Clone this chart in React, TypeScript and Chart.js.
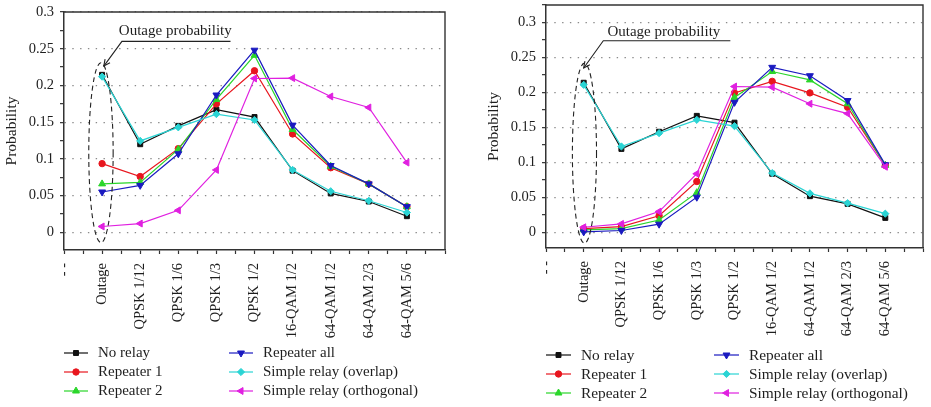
import React, { useEffect, useRef } from 'react';
import { Chart, registerables, PointElement } from 'chart.js';

Chart.register(...registerables);

// ---------- data ----------
const categories = ['Outage', 'QPSK 1/12', 'QPSK 1/6', 'QPSK 1/3', 'QPSK 1/2', '16-QAM 1/2', '64-QAM 1/2', '64-QAM 2/3', '64-QAM 5/6'];
const edgeLabel = '- -';
const seriesNames = ['No relay', 'Repeater 1', 'Repeater 2', 'Repeater all', 'Simple relay (overlap)', 'Simple relay (orthogonal)'];
const annotationText = 'Outage probability';
const yTitle = 'Probability';

// left panel
const leftNoRelay = [0.2145, 0.120, 0.145, 0.167, 0.157, 0.084, 0.053, 0.042, 0.022];
const leftRepeater1 = [0.0936, 0.076, 0.114, 0.175, 0.220, 0.134, 0.088, 0.066, 0.035];
const leftRepeater2 = [0.066, 0.068, 0.113, 0.181, 0.241, 0.140, 0.090, 0.066, 0.035];
const leftRepeaterAll = [0.055, 0.064, 0.107, 0.187, 0.248, 0.146, 0.091, 0.066, 0.035];
const leftSimpleOverlap = [0.212, 0.1245, 0.143, 0.161, 0.153, 0.085, 0.056, 0.043, 0.027];
const leftSimpleOrthogonal = [0.008, 0.012, 0.030, 0.085, 0.2095, 0.210, 0.185, 0.170, 0.095];

// right panel
const rightNoRelay = [0.214, 0.1195, 0.144, 0.1667, 0.157, 0.084, 0.052, 0.041, 0.021];
const rightRepeater1 = [0.0057, 0.0086, 0.024, 0.073, 0.1995, 0.216, 0.1995, 0.179, 0.096];
const rightRepeater2 = [0.004, 0.0057, 0.018, 0.057, 0.193, 0.230, 0.218, 0.184, 0.096];
const rightRepeaterAll = [0.001, 0.003, 0.012, 0.0505, 0.186, 0.236, 0.224, 0.1886, 0.097];
const rightSimpleOverlap = [0.211, 0.123, 0.142, 0.161, 0.152, 0.085, 0.056, 0.042, 0.027];
const rightSimpleOrthogonal = [0.0076, 0.0124, 0.030, 0.084, 0.2086, 0.2076, 0.184, 0.170, 0.094];

// ---------- styles ----------
const FONT = "'Liberation Serif', 'Times New Roman', serif";
const TEXT = '#1e1e1e';
const seriesStyles = [
  { color: '#111111', pointStyle: 'rect', rotation: 0, radius: 3.5 },
  { color: '#e8161e', pointStyle: 'circle', rotation: 0, radius: 3.2 },
  { color: '#2bd62b', pointStyle: 'triangle', rotation: 0, radius: 4 },
  { color: '#1a1ac0', pointStyle: 'triangle', rotation: 180, radius: 4 },
  { color: '#2ad4d4', pointStyle: 'rectRot', rotation: 0, radius: 3.6 },
  { color: '#e020e0', pointStyle: 'triangle', rotation: 270, radius: 4 },
];

const panels = [
  {
    key: 'left',
    x: 0,
    width: 470,
    series: [leftNoRelay, leftRepeater1, leftRepeater2, leftRepeaterAll, leftSimpleOverlap, leftSimpleOrthogonal],
    yMin: -0.024,
    yMax: 0.3,
    padding: { left: 0, top: 12, right: 25, bottom: 67 },
    yWidth: 64,
    xHeight: 90,
    annotation: {
      ellipse: { cx: -0.03, rx: 0.32, top: 0.231, bottom: -0.014 },
      tip: [0.045, 0.2264],
      elbow: [0.52, 0.26],
      end: [3.37, 0.26],
      text: [0.44, 0.274],
    },
    legend: { rows: [353, 372, 391], cols: [0, 165], lineLen: 24, textGap: 34, font: 15 },
  },
  {
    key: 'right',
    x: 470,
    width: 461,
    series: [rightNoRelay, rightRepeater1, rightRepeater2, rightRepeaterAll, rightSimpleOverlap, rightSimpleOrthogonal],
    yMin: -0.022,
    yMax: 0.325,
    padding: { left: 12, top: 5, right: 8, bottom: 69 },
    yWidth: 64,
    xHeight: 90,
    annotation: {
      ellipse: { cx: 0.02, rx: 0.32, top: 0.242, bottom: -0.015 },
      tip: [0.0, 0.235],
      elbow: [0.52, 0.274],
      end: [3.89, 0.274],
      text: [0.63, 0.287],
    },
    legend: { rows: [355, 374, 393], cols: [0, 168], lineLen: 25, textGap: 35, font: 15.4 },
  },
];

const decorPlugin = {
  id: 'decor',
  beforeDatasetsDraw(chart: any) {
    const { ctx, chartArea: a } = chart;
    ctx.save();
    ctx.strokeStyle = '#333333';
    ctx.lineWidth = 1.4;
    ctx.beginPath();
    ctx.moveTo(a.left, a.top);
    ctx.lineTo(a.right, a.top);
    ctx.lineTo(a.right, a.bottom);
    ctx.stroke();
    ctx.restore();
  },
  afterDatasetsDraw(chart: any, _args: any, opts: any) {
    const { ctx } = chart;
    const xs = chart.scales.x;
    const ys = chart.scales.y;
    const an = opts.annotation;
    if (an) {
      ctx.save();
      ctx.strokeStyle = '#222222';
      ctx.lineWidth = 1.1;
      const cx = xs.getPixelForValue(an.ellipse.cx);
      const rx = Math.abs(xs.getPixelForValue(an.ellipse.cx + an.ellipse.rx) - cx);
      const yt = ys.getPixelForValue(an.ellipse.top);
      const yb = ys.getPixelForValue(an.ellipse.bottom);
      ctx.setLineDash([5, 3.5]);
      ctx.beginPath();
      ctx.ellipse(cx, (yt + yb) / 2, rx, (yb - yt) / 2, 0, 0, Math.PI * 2);
      ctx.stroke();
      ctx.setLineDash([]);
      const tx = xs.getPixelForValue(an.tip[0]);
      const ty = ys.getPixelForValue(an.tip[1]);
      const ex = xs.getPixelForValue(an.elbow[0]);
      const ey = ys.getPixelForValue(an.elbow[1]);
      const nx = xs.getPixelForValue(an.end[0]);
      const ny = ys.getPixelForValue(an.end[1]);
      ctx.beginPath();
      ctx.moveTo(nx, ny);
      ctx.lineTo(ex, ey);
      ctx.lineTo(tx, ty);
      ctx.stroke();
      const ang = Math.atan2(ty - ey, tx - ex);
      const len = 7;
      ctx.beginPath();
      ctx.moveTo(tx - len * Math.cos(ang - 0.45), ty - len * Math.sin(ang - 0.45));
      ctx.lineTo(tx, ty);
      ctx.lineTo(tx - len * Math.cos(ang + 0.45), ty - len * Math.sin(ang + 0.45));
      ctx.stroke();
      ctx.fillStyle = TEXT;
      ctx.font = `15px ${FONT}`;
      ctx.textAlign = 'left';
      ctx.textBaseline = 'middle';
      ctx.fillText(annotationText, xs.getPixelForValue(an.text[0]), ys.getPixelForValue(an.text[1]));
      ctx.restore();
    }
    const lg = opts.legend;
    if (lg) {
      const left = chart.chartArea.left;
      chart.data.datasets.forEach((ds: any, i: number) => {
        const st = seriesStyles[i];
        const col = Math.floor(i / 3);
        const row = i % 3;
        const x0 = left + lg.cols[col];
        const y0 = lg.rows[row];
        ctx.save();
        ctx.strokeStyle = st.color;
        ctx.lineWidth = 1.2;
        ctx.beginPath();
        ctx.moveTo(x0, y0);
        ctx.lineTo(x0 + lg.lineLen, y0);
        ctx.stroke();
        const pe: any = new (PointElement as any)({});
        pe.x = x0 + lg.lineLen / 2;
        pe.y = y0;
        pe.options = {
          pointStyle: st.pointStyle,
          rotation: st.rotation,
          radius: st.radius,
          borderWidth: 1,
          borderColor: st.color,
          backgroundColor: st.color,
        };
        pe.draw(ctx);
        ctx.fillStyle = TEXT;
        ctx.font = `${lg.font}px ${FONT}`;
        ctx.textAlign = 'left';
        ctx.textBaseline = 'middle';
        ctx.fillText(ds.label, x0 + lg.textGap, y0 + 0.5);
        ctx.restore();
      });
    }
  },
};

function Panel({ cfg }: { cfg: any }) {
  const ref = useRef<HTMLCanvasElement | null>(null);
  useEffect(() => {
    if (!ref.current) return;
    const datasets = cfg.series.map((vals: number[], i: number) => {
      const st = seriesStyles[i];
      return {
        label: seriesNames[i],
        data: vals.map((y, k) => ({ x: k, y })),
        borderColor: st.color,
        backgroundColor: st.color,
        borderWidth: 1.2,
        pointStyle: st.pointStyle,
        pointRotation: st.rotation,
        pointRadius: st.radius,
        pointBorderWidth: 1,
        pointBackgroundColor: st.color,
        pointBorderColor: st.color,
        tension: 0,
        order: seriesNames.length - i,
        clip: false,
      };
    });
    const chart = new Chart(ref.current, {
      type: 'line',
      data: { datasets },
      plugins: [decorPlugin as any],
      options: {
        animation: false,
        responsive: false,
        events: [],
        layout: { padding: cfg.padding },
        plugins: {
          legend: { display: false },
          title: { display: false },
          tooltip: { enabled: false },
          decor: { annotation: cfg.annotation, legend: cfg.legend },
        } as any,
        scales: {
          x: {
            type: 'linear',
            min: -1,
            max: 9,
            afterFit: (s: any) => {
              s.height = cfg.xHeight;
              s.paddingLeft = 0;
              s.paddingRight = 0;
            },
            ticks: {
              stepSize: 0.5,
              maxTicksLimit: 100,
              autoSkip: false,
              minRotation: 90,
              maxRotation: 90,
              padding: 9,
              color: TEXT,
              font: { family: FONT, size: 14.5 },
              callback: (v: any) => {
                const n = Number(v);
                if (Math.abs(n + 1) < 1e-9) return edgeLabel;
                if (Number.isInteger(n) && n >= 0 && n < categories.length) return categories[n];
                return '';
              },
            },
            grid: {
              drawOnChartArea: false,
              drawTicks: true,
              tickLength: 4,
              tickColor: '#333333',
              tickWidth: 1.2,
            },
            border: { display: true, color: '#333333', width: 1.5 },
          },
          y: {
            type: 'linear',
            min: cfg.yMin,
            max: cfg.yMax,
            afterFit: (s: any) => {
              s.width = cfg.yWidth;
              s.paddingTop = 0;
              s.paddingBottom = 0;
            },
            title: {
              display: true,
              text: yTitle,
              color: TEXT,
              font: { family: FONT, size: 15.5 },
              padding: { top: 3, bottom: 2 },
            },
            ticks: {
              stepSize: 0.025,
              includeBounds: false,
              maxTicksLimit: 100,
              autoSkip: false,
              padding: 6,
              color: TEXT,
              font: { family: FONT, size: 14.5 },
              callback: (v: any) => {
                const r = Math.round(Number(v) * 1000) / 1000;
                const k = Math.round(r / 0.025);
                if (k % 2 !== 0) return '';
                return String(Math.round(r * 100) / 100);
              },
            },
            grid: {
              drawOnChartArea: true,
              drawTicks: true,
              tickLength: 4,
              tickColor: '#333333',
              tickWidth: 1.2,
              lineWidth: 1.3,
              color: (c: any) => {
                const val = c.tick ? c.tick.value : NaN;
                const k = Math.round(val / 0.025);
                return k % 2 === 0 && val >= 0 ? '#8a8a8a' : 'rgba(0,0,0,0)';
              },
            },
            border: { display: true, color: '#333333', width: 1.5, dash: [1.4, 6.4] },
          },
        },
      } as any,
    });
    return () => chart.destroy();
  }, [cfg]);
  return (
    <canvas
      ref={ref}
      width={cfg.width}
      height={407}
      style={{ position: 'absolute', left: cfg.x, top: 0, width: cfg.width, height: 407 }}
    />
  );
}

export default function App() {
  return (
    <div style={{ position: 'fixed', left: 0, top: 0, width: 931, height: 407, background: '#ffffff', overflow: 'hidden' }}>
      {panels.map((p) => (
        <Panel key={p.key} cfg={p} />
      ))}
    </div>
  );
}
